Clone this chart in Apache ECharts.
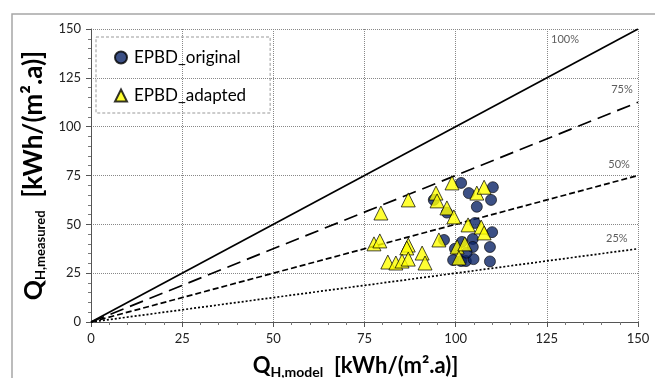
<!DOCTYPE html>
<html><head><meta charset="utf-8">
<script src="https://cdn.jsdelivr.net/npm/echarts@6/dist/echarts.min.js"></script>
<style>html,body{margin:0;padding:0;background:#fff}#c{width:655px;height:378px}</style>
</head><body><div id="c"></div>
<script>
var axisTicks = [0, 25, 50, 75, 100, 125, 150];
var epbdOriginal = [
  [101.5,71.2],[103.6,66],[110.2,69],[109.7,62.5],[105.8,59],[94,62.5],[97.6,56],
  [105.3,50.7],[110,46],[96.8,42],[101.7,41],[104.7,42.5],[104.7,38.4],[109.4,38.4],
  [99.3,31.7],[101.5,31.2],[102.8,31.2],[104.9,32.2],[109.4,31],[99.8,37.5],[103,35.5]
];
var epbdAdapted = [
  [79.5,55.8],[87,62.5],[77.6,40],[79.2,41.5],[87,39.4],[86.6,37.9],[81.4,30.7],
  [83.6,30.2],[85.3,31.2],[87,32.2],[90.8,35.3],[91.6,30.2],[95.4,42],[94.6,66],
  [94.9,62],[99,71.2],[97.6,58.4],[99.5,53.8],[105.8,66],[107.8,69],[103.4,49.7],
  [107,48.6],[107.8,45.6],[100.4,38.4],[102.5,40],[100.9,32.8]
];
var refRatios = [1.0, 0.75, 0.5, 0.25];
var refNames = ['100%', '75%', '50%', '25%'];
var refLabelPos = [[130,144.4],[145.6,118.8],[144.8,80.4],[144.2,43]];
var xMax = 150;

var FONT = 'Lato, "Open Sans", sans-serif';
var dashes = ['solid', [14, 7], [6, 3], [2, 2]];

var series = [];
refRatios.forEach(function (r, i) {
  series.push({
    name: refNames[i], type: 'line', data: [[0,0],[xMax, xMax*r]],
    symbol: 'none', silent: true, z: 1,
    lineStyle: {color: '#000', width: 1.7, type: dashes[i]}
  });
});
series.push({
  name: 'refLabels', type: 'scatter', symbolSize: 0, silent: true,
  data: refLabelPos.map(function (p, i) { return {value: p, label: {formatter: refNames[i]}}; }),
  label: {show: true, position: 'inside', color: '#333', fontSize: 11, fontFamily: FONT}
});
series.push({
  name: 'EPBD_original', type: 'scatter', data: epbdOriginal, symbol: 'circle', symbolSize: 11, z: 3,
  itemStyle: {color: '#0b2466', borderColor: '#000', borderWidth: 0.8}
});
series.push({
  name: 'EPBD_adapted', type: 'scatter', data: epbdAdapted, symbol: 'triangle', symbolSize: 14, z: 4,
  itemStyle: {color: '#ffff00', borderColor: '#000', borderWidth: 0.9}
});

var xRich = {
  q: {fontSize: 22, fontWeight: 'bold', color: '#000', fontFamily: FONT, lineHeight: 26},
  s: {fontSize: 14, fontWeight: 'bold', color: '#000', fontFamily: FONT, verticalAlign: 'bottom', padding: [9,0,0,0]},
  u: {fontSize: 22, fontWeight: 'bold', color: '#000', fontFamily: FONT, lineHeight: 26, padding: [0,18,0,0]}
};
var yRich = {
  q: {fontSize: 25, fontWeight: 'bold', color: '#000', fontFamily: FONT, lineHeight: 28},
  s: {fontSize: 13, fontWeight: 'bold', color: '#000', fontFamily: FONT, verticalAlign: 'bottom', padding: [8,0,0,0]},
  u: {fontSize: 26, fontWeight: 'bold', color: '#000', fontFamily: FONT, lineHeight: 28}
};

function axis(name, gap, rot, rich) {
  return {
    type: 'value', min: 0, max: 150, interval: 25,
    name: name, nameLocation: 'middle', nameGap: gap, nameRotate: rot,
    nameTextStyle: {rich: rich},
    axisLine: {show: true, lineStyle: {color: '#555', width: 1}},
    axisTick: {show: true, inside: false, length: 5, lineStyle: {color: '#555'}},
    minorTick: {show: true, splitNumber: 5, length: 3, lineStyle: {color: '#777'}},
    axisLabel: {color: '#222', fontSize: 13, fontFamily: FONT, margin: 10,
      formatter: function (v) { return axisTicks.indexOf(v) >= 0 ? String(v) : ''; }},
    splitLine: {show: true, lineStyle: {color: '#888', type: [1, 1], width: 1}}
  };
}

var chart = echarts.init(document.getElementById('c'), null, {renderer: 'canvas'});
chart.setOption({
  backgroundColor: '#fff',
  animation: false,
  graphic: [{type: 'rect', shape: {x: 12, y: 14, width: 700, height: 420},
    style: {fill: 'none', stroke: '#a6a6a6', lineWidth: 1.5}, z: -10}],
  grid: {left: 91, top: 29, right: 17, bottom: 56, containLabel: false, outerBoundsMode: 'none'},
  xAxis: axis('{q|Q}{s|H,model}{u|  [kWh/(m².a)]}', 31, 0, xRich),
  yAxis: axis('{q|Q}{s|H,measured}{u|  [kWh/(m².a)]}', 40, 90, yRich),
  legend: {
    show: true, orient: 'vertical', left: 96, top: 37,
    data: [{name: 'EPBD_original', icon: 'circle'}, {name: 'EPBD_adapted', icon: 'triangle'}],
    itemWidth: 12, itemHeight: 12, itemGap: 21,
    padding: [12, 24, 9, 18],
    borderColor: '#999', borderWidth: 1, borderType: [3, 2],
    textStyle: {fontSize: 17, color: '#000', fontFamily: FONT, padding: [0,0,0,2]}
  },
  series: series
});
</script></body></html>
